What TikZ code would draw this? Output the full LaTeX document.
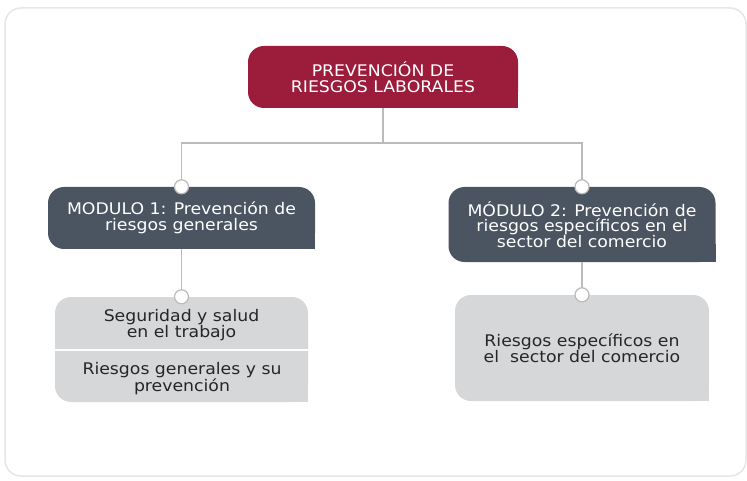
\documentclass[tikz,border=0pt]{standalone}
\usepackage{fontspec}
\usepackage{xcolor}
\usepackage{tikz}
\setmainfont{DejaVu Sans}[FakeStretch=1.08]
\definecolor{prlred}{HTML}{9C1D3B}
\definecolor{modslate}{HTML}{4A5561}
\definecolor{subgray}{HTML}{D6D7D9}
\definecolor{linegray}{HTML}{BBBBBB}
\definecolor{framegray}{HTML}{E6E6E6}
\definecolor{textdark}{HTML}{262626}

\begin{document}
\begin{tikzpicture}[x=1pt,y=-1pt,
  box/.style={rounded corners=16pt,inner sep=0pt,align=center,font=\fontsize{16}{15.5}\selectfont},
  conn/.style={draw=linegray,line width=1.4pt},
  knob/.style={circle,draw=linegray,line width=1.2pt,fill=white,minimum size=14pt,inner sep=0pt}]
\useasboundingbox (0,0) rectangle (747,481);
\draw[framegray,line width=1.5pt,rounded corners=16pt] (5,8) rectangle (746,476);
% boxes
\node[box,fill=prlred,text=white,minimum width=270pt,minimum height=62pt] (prl) at (383,77) {PREVENCIÓN DE\\RIESGOS LABORALES};
\node[box,fill=modslate,text=white,minimum width=267pt,minimum height=62pt] (mod1) at (181.5,218) {MODULO 1: Prevención de\\riesgos generales};
\node[box,fill=modslate,text=white,minimum width=267pt,minimum height=75pt] (mod2) at (582,224.5) {MÓDULO 2: Prevención de\\riesgos específicos en el\\sector del comercio};
\node[box,fill=subgray,minimum width=253pt,minimum height=105pt] (sub1) at (181.5,349.5) {};
\node[box,fill=subgray,text=textdark,minimum width=254pt,minimum height=106pt] (sub2) at (582,348) {Riesgos específicos en\\el\ \ sector del comercio};
% square corners
\fill[prlred] (prl.south east) rectangle ++(-18,-18);
\fill[modslate] (mod1.south east) rectangle ++(-18,-18);
\fill[modslate] (mod2.south east) rectangle ++(-18,-18);
\fill[subgray] (sub1.south east) rectangle ++(-18,-18);
\fill[subgray] (sub2.south east) rectangle ++(-18,-18);
\draw[white,line width=2pt] (sub1.west |- 0,350) -- (sub1.east |- 0,350);
\node[box,text=textdark] (seg) at (181.5,325) {Seguridad y salud\\en el trabajo};
\node[box,text=textdark] (rie) at (182,379) {Riesgos generales y su\\prevención};
% connectors
\coordinate (fork) at (383,143);
\draw[conn] (prl.south) -- (fork);
\draw[conn] (fork) -| (mod1.north);
\draw[conn] (fork) -| (mod2.north);
\draw[conn] (mod1.south) -- (sub1.north);
\draw[conn] (mod2.south) -- (sub2.north);
\node[knob] (k1) at (mod1.north) {};
\node[knob] (k2) at (mod2.north) {};
\node[knob] (k3) at (sub1.north) {};
\node[knob] (k4) at (sub2.north) {};
\end{tikzpicture}
\end{document}
